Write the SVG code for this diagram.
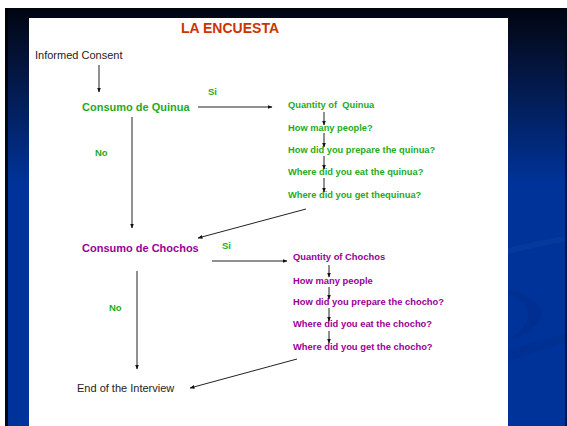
<svg xmlns="http://www.w3.org/2000/svg" width="567" height="426" viewBox="0 0 567 426">
  <defs>
    <linearGradient id="bg" x1="0" y1="8" x2="0" y2="426" gradientUnits="userSpaceOnUse">
      <stop offset="0" stop-color="#000510"/>
      <stop offset="0.1" stop-color="#041030"/>
      <stop offset="0.42" stop-color="#003399"/>
      <stop offset="1" stop-color="#003399"/>
    </linearGradient>
    <marker id="ah" viewBox="0 0 10 10" refX="9" refY="5" markerWidth="5" markerHeight="5" orient="auto" markerUnits="userSpaceOnUse">
      <path d="M0,1 L10,5 L0,9 Z" fill="#111"/>
    </marker>
    <style>
      .title { font-family: "Liberation Sans", Arial, sans-serif; font-weight: bold; font-size: 14px; fill: #CC3300; }
      .plain { font-family: "Liberation Sans", Arial, sans-serif; font-size: 11px; fill: #222; }
      .mainq { font-family: "Liberation Sans", Arial, sans-serif; font-weight: bold; font-size: 11px; fill: #1FAA1F; }
      .mainc { font-family: "Liberation Sans", Arial, sans-serif; font-weight: bold; font-size: 11px; fill: #990099; }
      .qq { font-family: "Liberation Sans", Arial, sans-serif; font-weight: bold; font-size: 9.3px; fill: #1FAA1F; white-space: pre; }
      .qc { font-family: "Liberation Sans", Arial, sans-serif; font-weight: bold; font-size: 9.4px; fill: #990099; }
      .lbl { font-family: "Liberation Sans", Arial, sans-serif; font-weight: bold; font-size: 9.5px; fill: #1FAA1F; }
      .conn line { stroke: #222; stroke-width: 1; fill: none; marker-end: url(#ah); }
    </style>
  </defs>

  <!-- background -->
  <rect x="0" y="0" width="567" height="426" fill="#ffffff"/>
  <rect x="5" y="8" width="562" height="418" fill="url(#bg)"/>
  <rect x="5" y="8" width="3" height="418" fill="#000000" opacity="0.85"/>
  <rect x="565" y="8" width="2" height="418" fill="#000814" opacity="0.6"/>
  <path d="M508,248 Q540,240 565,236 L565,242 Q540,246 508,254 Z" fill="#1a47a8" opacity="0.25"/>
  <path d="M508,290 Q548,300 540,320 Q530,335 508,340 Q530,326 528,312 Q522,298 508,294 Z" fill="#002a85" opacity="0.4"/>
  <path d="M508,350 Q540,340 565,334 L565,342 Q540,350 508,362 Z" fill="#002a85" opacity="0.35"/>
  <rect x="29" y="18" width="479" height="408" fill="#ffffff"/>

  <text class="title" x="230" y="33" text-anchor="middle">LA ENCUESTA</text>

  <g id="informed"><text class="plain" x="35" y="59">Informed Consent</text></g>
  <g id="quinua"><text class="mainq" x="82" y="111">Consumo de Quinua</text></g>
  <g id="chochos"><text class="mainc" x="82" y="252">Consumo de Chochos</text></g>
  <g id="end"><text class="plain" x="77" y="392">End of the Interview</text></g>

  <g id="quinua-questions">
    <text class="qq" x="288" y="108" xml:space="preserve">Quantity of  Quinua</text>
    <text class="qq" x="288" y="131">How many people?</text>
    <text class="qq" x="288" y="153">How did you prepare the quinua?</text>
    <text class="qq" x="288" y="175">Where did you eat the quinua?</text>
    <text class="qq" x="288" y="198">Where did you get thequinua?</text>
  </g>

  <g id="chochos-questions">
    <text class="qc" x="293" y="260">Quantity of Chochos</text>
    <text class="qc" x="293" y="284">How many people</text>
    <text class="qc" x="293" y="305">How did you prepare the chocho?</text>
    <text class="qc" x="293" y="327">Where did you eat the chocho?</text>
    <text class="qc" x="293" y="350">Where did you get the chocho?</text>
  </g>

  <g id="labels">
    <text class="lbl" x="208" y="95">Si</text>
    <text class="lbl" x="95" y="156">No</text>
    <text class="lbl" x="222" y="249">Si</text>
    <text class="lbl" x="109" y="311">No</text>
  </g>

  <g class="conn" id="connectors">
    <line x1="99" y1="65" x2="99" y2="92"/>
    <line x1="198" y1="107" x2="272" y2="107"/>
    <line x1="132" y1="117" x2="132" y2="228"/>
    <line x1="324" y1="112" x2="324" y2="125"/>
    <line x1="324" y1="133" x2="324" y2="147"/>
    <line x1="324" y1="156" x2="324" y2="169"/>
    <line x1="324" y1="178" x2="324" y2="192"/>
    <line x1="306" y1="209" x2="198" y2="238"/>
    <line x1="212" y1="261" x2="287" y2="261"/>
    <line x1="137" y1="271" x2="137" y2="369"/>
    <line x1="329" y1="265" x2="329" y2="277"/>
    <line x1="329" y1="287" x2="329" y2="299"/>
    <line x1="329" y1="308" x2="329" y2="321"/>
    <line x1="329" y1="331" x2="329" y2="343"/>
    <line x1="297" y1="359" x2="190" y2="388"/>
  </g>
</svg>
